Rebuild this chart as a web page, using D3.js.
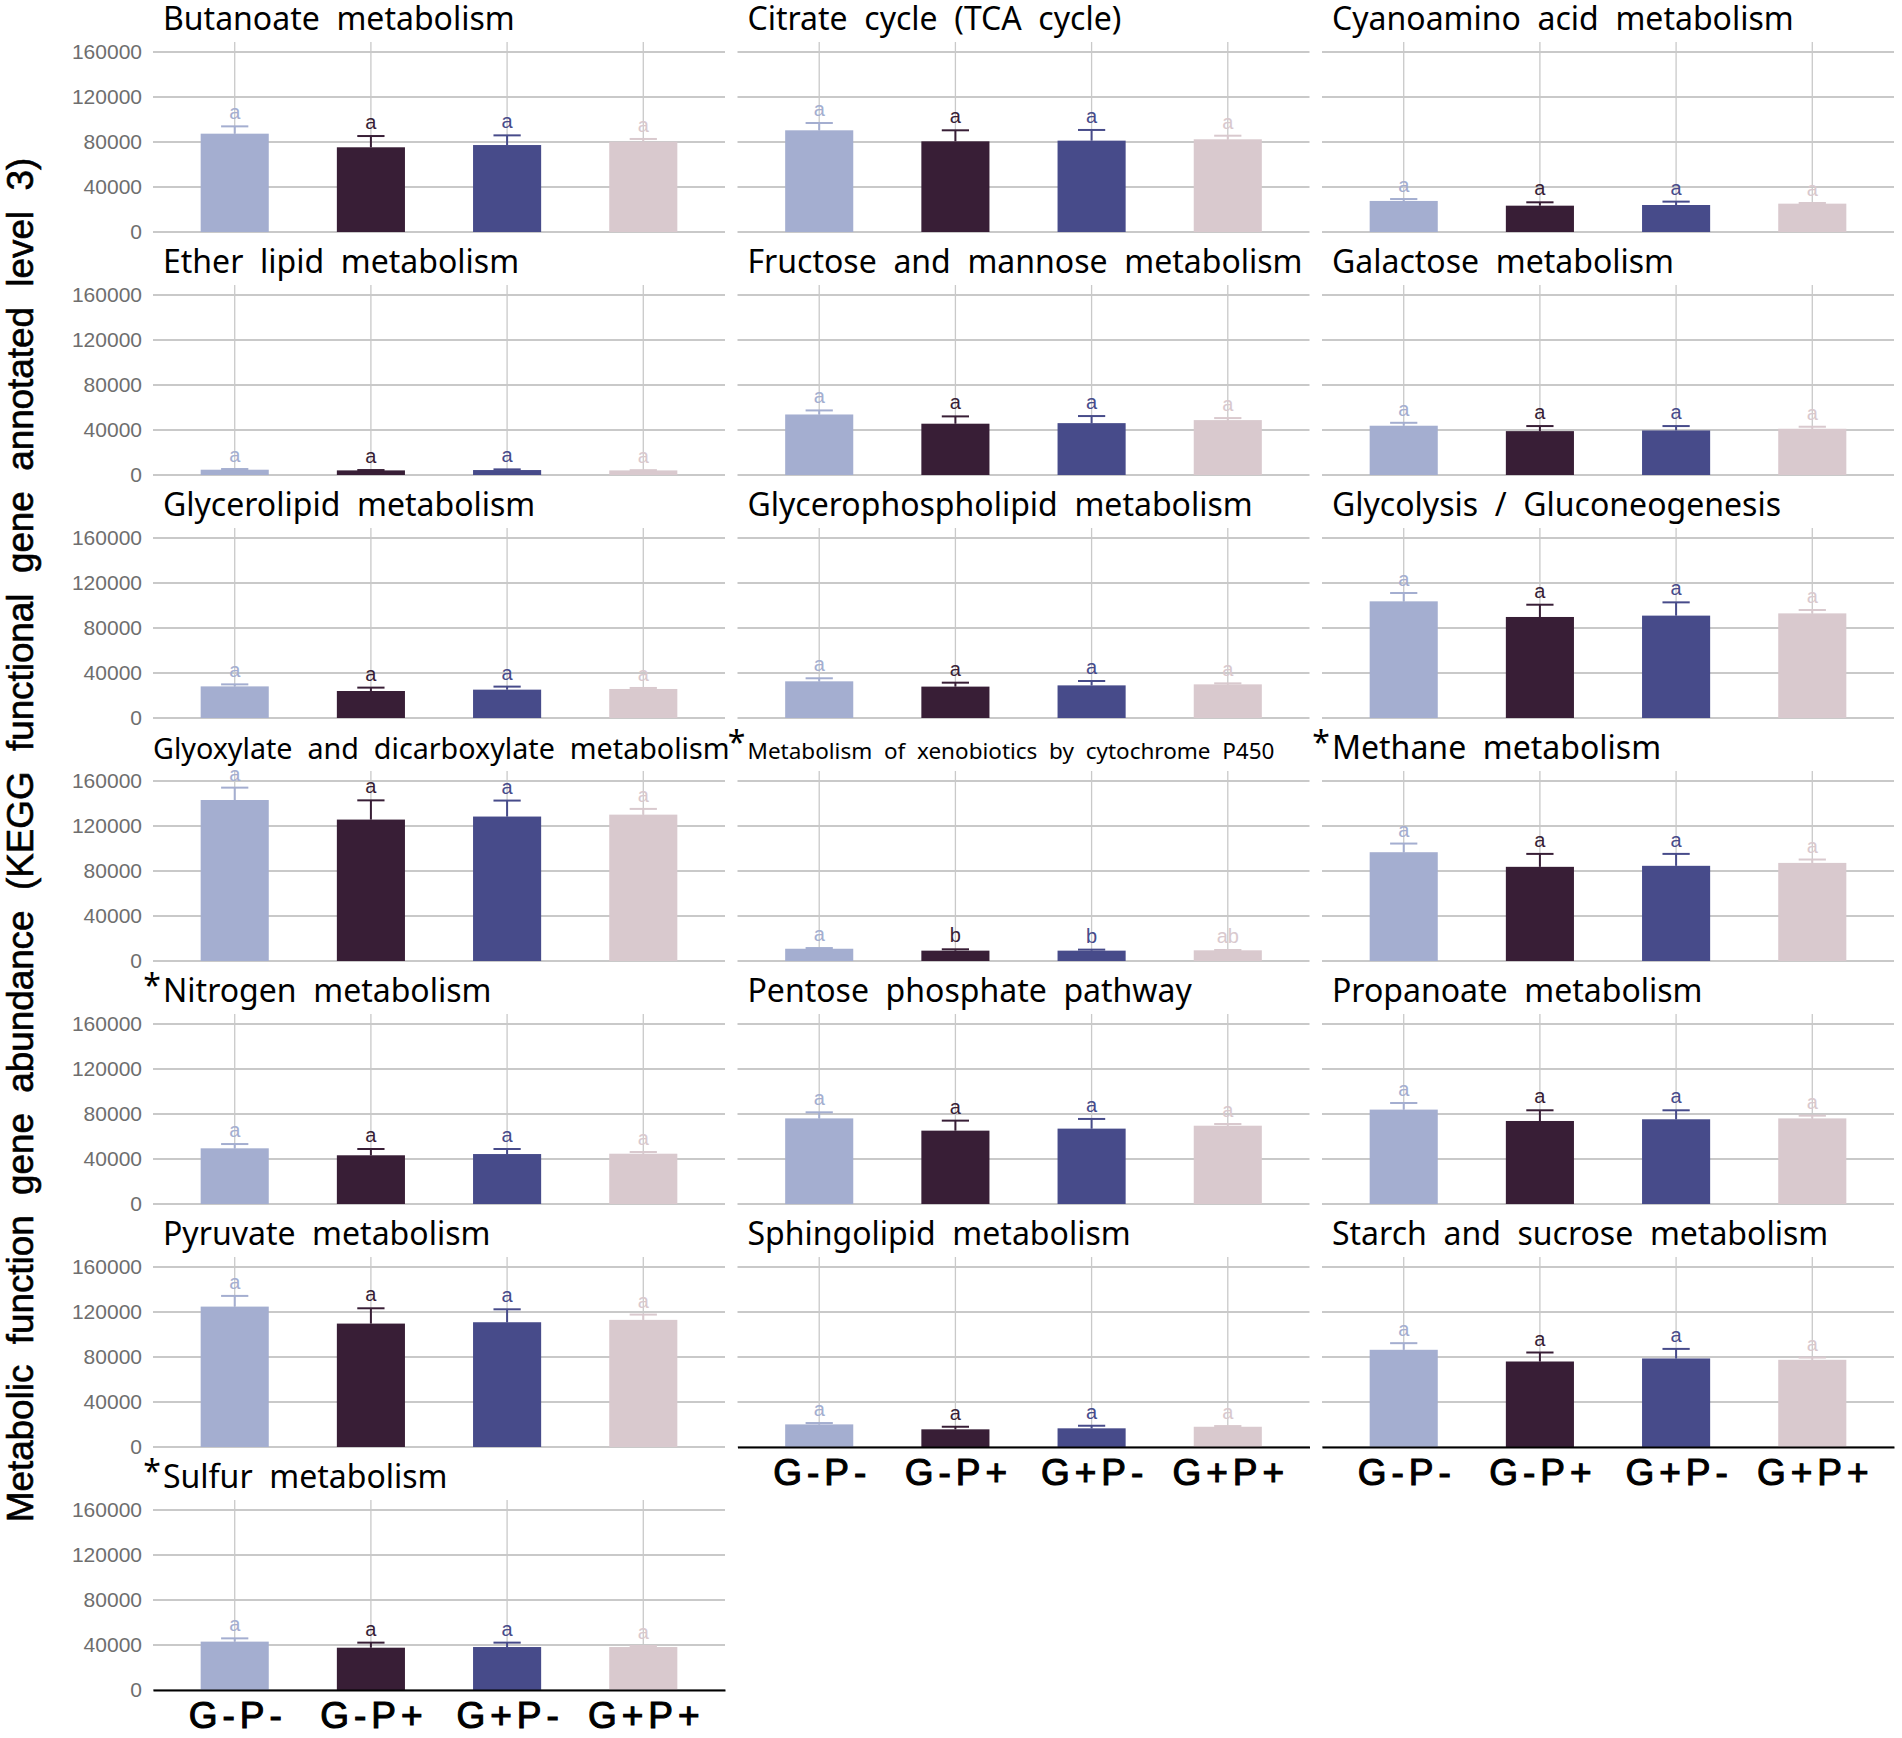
<!DOCTYPE html>
<html>
<head>
<meta charset="utf-8">
<script src="https://cdn.jsdelivr.net/npm/d3@7"></script>
<style>
  body { margin: 0; background: #fff; }
  text { white-space: pre; }
</style>
</head>
<body>
<script>
// * Data

const groups = ["G-P-", "G-P+", "G+P-", "G+P+"];
const colors = ["#a4aed0", "#381e36", "#474b8a", "#d9c9ce"];
const yTicks = [0, 40000, 80000, 120000, 160000];

const pathways = [
	"Butanoate  metabolism",
	"Citrate  cycle  (TCA  cycle)",
	"Cyanoamino  acid  metabolism",
	"Ether  lipid  metabolism",
	"Fructose  and  mannose  metabolism",
	"Galactose  metabolism",
	"Glycerolipid  metabolism",
	"Glycerophospholipid  metabolism",
	"Glycolysis  /  Gluconeogenesis",
	"Glyoxylate  and  dicarboxylate  metabolism",
	"Metabolism  of  xenobiotics  by  cytochrome  P450",
	"Methane  metabolism",
	"Nitrogen  metabolism",
	"Pentose  phosphate  pathway",
	"Propanoate  metabolism",
	"Pyruvate  metabolism",
	"Sphingolipid  metabolism",
	"Starch  and  sucrose  metabolism",
	"Sulfur  metabolism",
];

// pathways marked with * (significant)
const starred = [false, false, false, false, false, false, false, false, false, false, true, true, true, false, false, false, false, false, true];

// mean abundance per group
const means = [
	[87400, 75300, 77300, 80300],
	[90400, 80600, 81200, 82400],
	[27600, 23400, 24000, 25200],
	[4700, 4100, 4400, 4100],
	[53800, 45600, 46100, 48800],
	[43800, 39000, 39600, 41100],
	[28100, 24000, 25200, 25800],
	[32600, 27900, 29000, 29900],
	[103700, 89800, 91000, 93000],
	[143100, 125700, 128400, 130100],
	[10900, 9200, 9200, 9500],
	[96700, 83700, 84600, 87200],
	[49500, 43300, 44400, 44700],
	[76100, 65200, 67000, 69600],
	[83900, 73800, 75300, 76100],
	[124800, 109700, 110900, 113000],
	[20100, 15700, 16600, 18000],
	[86400, 76000, 78700, 77500],
	[43000, 37600, 38200, 38200],
];

// standard error per group
const errors = [
	[6500, 10000, 8600, 2400],
	[6500, 9800, 9500, 3200],
	[1700, 3000, 3000, 600],
	[600, 300, 600, 200],
	[3600, 6500, 6300, 1800],
	[2600, 4500, 3900, 1800],
	[1800, 3000, 2700, 900],
	[2700, 3500, 3900, 900],
	[7400, 10900, 11800, 3000],
	[11000, 17100, 14200, 5100],
	[600, 1200, 900, 300],
	[7700, 11500, 10600, 3000],
	[3800, 5600, 4500, 1500],
	[5400, 8900, 8600, 1500],
	[5900, 9500, 8000, 2400],
	[9500, 13600, 11500, 4700],
	[1200, 2300, 2300, 600],
	[5900, 8000, 8500, 2000],
	[2900, 4500, 3900, 900],
];

// significance letters
const letters = [
	["a", "a", "a", "a"], ["a", "a", "a", "a"], ["a", "a", "a", "a"],
	["a", "a", "a", "a"], ["a", "a", "a", "a"], ["a", "a", "a", "a"],
	["a", "a", "a", "a"], ["a", "a", "a", "a"], ["a", "a", "a", "a"],
	["a", "a", "a", "a"], ["a", "b", "b", "ab"], ["a", "a", "a", "a"],
	["a", "a", "a", "a"], ["a", "a", "a", "a"], ["a", "a", "a", "a"],
	["a", "a", "a", "a"], ["a", "a", "a", "a"], ["a", "a", "a", "a"],
	["a", "a", "a", "a"],
];

const yLabel = "Metabolic  function  gene  abundance  (KEGG  functional  gene  annotated  level  3)";

// * Size & layout

const width = 1902;
const height = 1738;
const panelW = 572;
const panelH = 190;
const colLeft = [153, 737.5, 1322];
const rowTop = 42;
const rowStep = 243;
const ncol = 3;

const svg = d3
	.select("body")
	.append("svg")
	.attr("width", width)
	.attr("height", height);

// * Scales
const x = d3.scalePoint().domain(groups).range([0, panelW]).padding(0.6);
const y = d3
	.scaleLinear()
	.domain([0, (160000 * panelH) / 180])
	.range([panelH, 0]);
const color = d3.scaleOrdinal().domain(groups).range(colors);
const barW = x.step() * 0.5;
const capW = x.step() * 0.2;

// title font tweaks (long titles were shrunk in the original)
const titleSize = (i) => (i === 10 ? 22.5 : i === 9 ? 28.7 : 32);
const titleShift = (i) => (i === 9 ? -10 : 0);

// last panel of each column gets the x axis
const nPanels = pathways.length;
const isBottom = (i) => i + ncol >= nPanels;

pathways.forEach((name, i) => {
	const row = Math.floor(i / ncol);
	const col = i % ncol;
	const g = svg
		.append("g")
		.attr("transform", `translate(${colLeft[col]},${rowTop + row * rowStep})`);

	const rows = groups.map((grp, j) => ({
		grp: grp,
		mean: means[i][j],
		se: errors[i][j],
		letter: letters[i][j],
	}));

	// * GRID
	g.selectAll(".hgrid")
		.data(yTicks)
		.join("line")
		.attr("x1", 0)
		.attr("x2", panelW)
		.attr("y1", (d) => y(d))
		.attr("y2", (d) => y(d))
		.attr("stroke", "#c9c9c9")
		.attr("stroke-width", 1.8);

	g.selectAll(".vgrid")
		.data(groups)
		.join("line")
		.attr("x1", (d) => x(d))
		.attr("x2", (d) => x(d))
		.attr("y1", 0)
		.attr("y2", panelH)
		.attr("stroke", "#c9c9c9")
		.attr("stroke-width", 1.3);

	// * Y AXIS (first column only)
	if (col === 0) {
		const ya = g
			.append("g")
			.call(d3.axisLeft(y).tickValues(yTicks).tickSize(0).tickPadding(11).tickFormat(d3.format("d")));
		ya.select(".domain").remove();
		ya.selectAll("text")
			.attr("fill", "#6e6e6e")
			.attr("font-family", "Liberation Sans, Arial, sans-serif")
			.attr("font-size", 21);
	}

	// * BARS
	g.selectAll(".bar")
		.data(rows)
		.join("rect")
		.attr("x", (d) => x(d.grp) - barW / 2)
		.attr("y", (d) => y(d.mean))
		.attr("width", barW)
		.attr("height", (d) => y(0) - y(d.mean))
		.attr("fill", (d) => color(d.grp));

	// * ERROR BARS (upper only)
	g.selectAll(".whisker")
		.data(rows)
		.join("line")
		.attr("x1", (d) => x(d.grp))
		.attr("x2", (d) => x(d.grp))
		.attr("y1", (d) => y(d.mean))
		.attr("y2", (d) => y(d.mean + d.se))
		.attr("stroke", (d) => color(d.grp))
		.attr("stroke-width", 2);

	g.selectAll(".cap")
		.data(rows)
		.join("line")
		.attr("x1", (d) => x(d.grp) - capW / 2)
		.attr("x2", (d) => x(d.grp) + capW / 2)
		.attr("y1", (d) => y(d.mean + d.se))
		.attr("y2", (d) => y(d.mean + d.se))
		.attr("stroke", (d) => color(d.grp))
		.attr("stroke-width", 2);

	// * LETTERS
	g.selectAll(".sig")
		.data(rows)
		.join("text")
		.attr("x", (d) => x(d.grp))
		.attr("y", (d) => y(d.mean + d.se) - 7)
		.attr("text-anchor", "middle")
		.attr("font-family", "Liberation Sans, Arial, sans-serif")
		.attr("font-size", 20)
		.attr("fill", (d) => color(d.grp))
		.text((d) => d.letter);

	// * TITLE
	const tx = 10 + titleShift(i);
	g.append("text")
		.attr("x", tx)
		.attr("y", -12)
		.attr("font-family", "Noto Sans, sans-serif")
		.attr("font-size", titleSize(i))
		.attr("fill", "#000")
		.text(name);
	if (starred[i]) {
		g.append("text")
			.attr("x", tx - 2)
			.attr("y", -17)
			.attr("text-anchor", "end")
			.attr("font-family", "Noto Sans, sans-serif")
			.attr("font-size", 32)
			.attr("fill", "#000")
			.text("*");
	}

	// * X AXIS
	if (isBottom(i)) {
		const xa = g
			.append("g")
			.attr("transform", `translate(0,${panelH})`)
			.call(d3.axisBottom(x).tickSize(0).tickPadding(12));
		xa.select(".domain").attr("stroke", "#000").attr("stroke-width", 2);
		xa.selectAll("text")
			.attr("fill", "#000")
			.attr("stroke", "#000")
			.attr("stroke-width", 1.1)
			.attr("dx", 2.5)
			.attr("font-family", "Liberation Sans, Arial, sans-serif")
			.attr("font-size", 37)
			.attr("letter-spacing", 5);
	}
});

// * Y TITLE
svg.append("text")
	.attr("transform", "translate(33,840) rotate(-90)")
	.attr("text-anchor", "middle")
	.attr("font-family", "Liberation Sans, Arial, sans-serif")
	.attr("font-size", 36.8)
	.attr("fill", "#000")
	.attr("stroke", "#000")
	.attr("stroke-width", 0.6)
	.text(yLabel);
</script>
</body>
</html>
